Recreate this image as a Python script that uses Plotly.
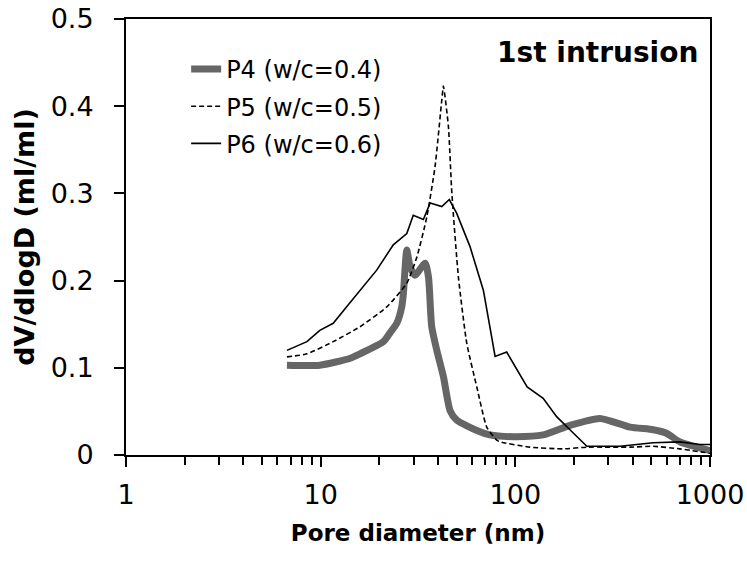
import plotly.graph_objects as go

# ---- data ----
p4_x = [6.71, 9.9, 14.2, 15.9, 21.0, 22.7, 24.6, 26.1, 26.6, 27.7, 28.8, 30.5, 34.4, 35.8, 37.2, 39.5,
        42.7, 46.2, 50.0, 63.4, 74.0, 97.7, 139, 191, 272, 388, 511, 598, 700, 1000]
p4_y = [0.103, 0.103, 0.111, 0.116, 0.130, 0.140, 0.151, 0.170, 0.185, 0.235, 0.216, 0.206, 0.220, 0.204,
        0.147, 0.120, 0.090, 0.051, 0.040, 0.028, 0.023, 0.021, 0.023, 0.034, 0.042, 0.032, 0.029, 0.025,
        0.015, 0.005]

p5_x = [6.71, 8.5, 11.6, 15.9, 21.9, 27.7, 31.2, 35.1, 38.7, 41.9, 42.7, 45.3, 47.2, 51.0, 56.3, 63.4,
        71.3, 80.3, 83.5, 119, 176, 233, 388, 511, 700, 1000]
p5_y = [0.1125, 0.116, 0.130, 0.147, 0.170, 0.197, 0.227, 0.273, 0.331, 0.407, 0.423, 0.377, 0.300, 0.204,
        0.128, 0.078, 0.032, 0.017, 0.015, 0.009, 0.007, 0.009, 0.009, 0.010, 0.007, 0.002]

p6_x = [6.71, 8.5, 9.9, 11.6, 13.6, 15.9, 19.4, 23.6, 27.7, 29.9, 33.7, 36.5, 41.9, 45.8, 50.0, 58.5,
        68.5, 74.0, 78.7, 90.3, 115, 139, 163, 199, 233, 345, 511, 700, 889, 1000]
p6_y = [0.120, 0.130, 0.143, 0.151, 0.170, 0.189, 0.212, 0.241, 0.254, 0.275, 0.270, 0.289, 0.285, 0.293,
        0.277, 0.239, 0.189, 0.147, 0.113, 0.118, 0.078, 0.065, 0.044, 0.025, 0.010, 0.010, 0.014, 0.015,
        0.012, 0.012]

series_names = ["P4 (w/c=0.4)", "P5 (w/c=0.5)", "P6 (w/c=0.6)"]
x_tick_vals = [1, 10, 100, 1000]
x_tick_text = ["1", "10", "100", "1000"]
y_tick_vals = [0, 0.1, 0.2, 0.3, 0.4, 0.5]
y_tick_text = ["0", "0.1", "0.2", "0.3", "0.4", "0.5"]
x_title = "Pore diameter (nm)"
y_title = "dV/dlogD (ml/ml)"
panel_label = "1st intrusion"

FONT = "DejaVu Sans"

fig = go.Figure()
fig.add_trace(go.Scatter(x=p4_x, y=p4_y, mode="lines", name=series_names[0], legendgroup="a",
                         line=dict(color="#666666", width=7, shape="spline", smoothing=0.6)))
fig.add_trace(go.Scatter(x=p5_x, y=p5_y, mode="lines", name=series_names[1], legendgroup="b",
                         line=dict(color="black", width=1.6, dash="5px,3px", shape="spline", smoothing=0.5)))
fig.add_trace(go.Scatter(x=p6_x, y=p6_y, mode="lines", name=series_names[2], legendgroup="c",
                         line=dict(color="black", width=1.6)))

minor_vals = [m * d for d in (1, 10, 100) for m in range(2, 10)]

fig.update_layout(
    width=747, height=563,
    margin=dict(l=126, r=37, t=19, b=108),
    paper_bgcolor="white", plot_bgcolor="white",
    font=dict(family=FONT, color="black"),
    showlegend=True,
    legend=dict(x=0.103, y=0.936, xanchor="left", yanchor="top", bgcolor="rgba(0,0,0,0)",
                font=dict(family=FONT, size=24), itemwidth=30, tracegroupgap=3,
                traceorder="grouped"),
    annotations=[dict(text="<b>" + panel_label + "</b>", xref="paper", yref="paper",
                      x=0.983, y=0.9226, xanchor="right", yanchor="middle", showarrow=False,
                      font=dict(family=FONT, size=28, color="black"))],
)

fig.update_xaxes(
    type="log", range=[0, 3], automargin=False,
    tickvals=x_tick_vals, ticktext=x_tick_text,
    ticks="outside", ticklen=10, tickwidth=2, tickcolor="black",
    minor=dict(tickvals=minor_vals, ticks="outside", ticklen=8, tickwidth=2, tickcolor="black"),
    showline=True, linecolor="black", linewidth=2, mirror=True,
    showgrid=False, zeroline=False,
    tickfont=dict(family=FONT, size=27),
    ticklabelstandoff=5,
    title=dict(text="<b>" + x_title + "</b>", font=dict(family=FONT, size=23), standoff=15),
)
fig.update_yaxes(
    range=[0, 0.5], automargin=False,
    tickvals=y_tick_vals, ticktext=y_tick_text,
    ticks="outside", ticklen=10, tickwidth=2, tickcolor="black",
    showline=True, linecolor="black", linewidth=2, mirror=True,
    showgrid=False, zeroline=False,
    tickfont=dict(family=FONT, size=27),
    ticklabelstandoff=15,
    title=dict(text="<b>" + y_title + "</b>", font=dict(family=FONT, size=27), standoff=8),
)

fig.write_html("out.html", config={"displayModeBar": False},
               post_script="document.body.style.margin='0';")
